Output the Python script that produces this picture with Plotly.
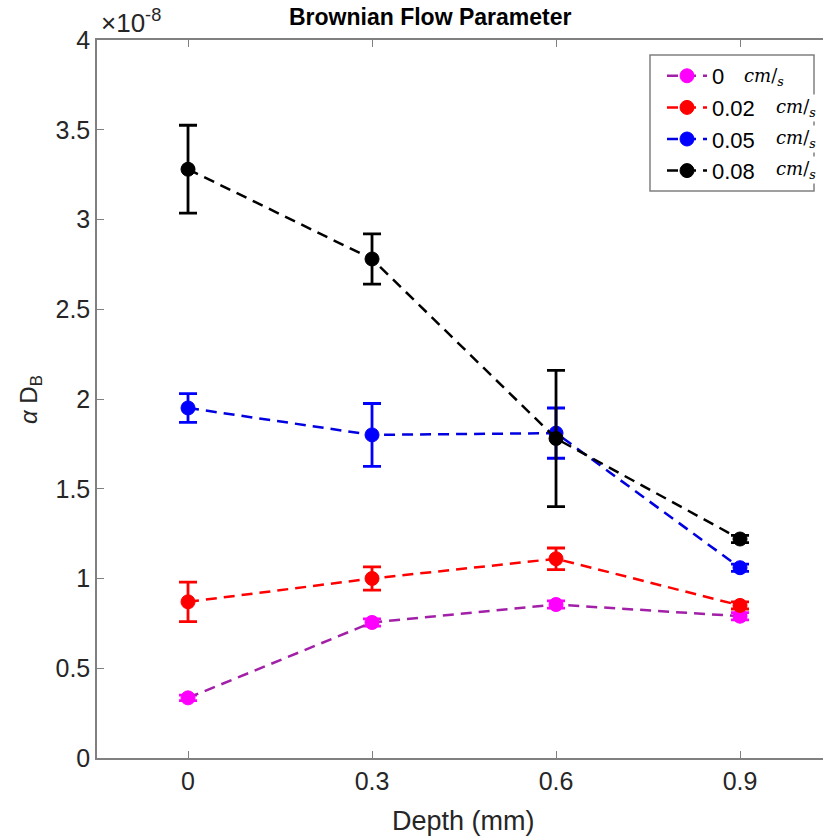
import plotly.graph_objects as go

depth = [0, 0.3, 0.6, 0.9]
series_names = ["0", "0.02", "0.05", "0.08"]
v0 = [0.335, 0.755, 0.855, 0.79]
e0 = [0.015, 0.02, 0.02, 0.02]
v002 = [0.87, 1.00, 1.11, 0.85]
e002 = [0.11, 0.065, 0.06, 0.02]
v005 = [1.95, 1.80, 1.81, 1.06]
e005 = [0.08, 0.175, 0.14, 0.02]
v008 = [3.28, 2.78, 1.78, 1.22]
e008 = [0.245, 0.14, 0.38, 0.02]
y_ticks = [0, 0.5, 1, 1.5, 2, 2.5, 3, 3.5, 4]
y_ticklabels = ["0", "0.5", "1", "1.5", "2", "2.5", "3", "3.5", "4"]
x_ticklabels = ["0", "0.3", "0.6", "0.9"]

line_colors = ["#a21fa8", "#ff0000", "#0000e0", "#000000"]
marker_colors = ["#ff00ff", "#ff0000", "#0000ff", "#000000"]

fig = go.Figure()
for name, v, e, lc, mc in zip(series_names, [v0, v002, v005, v008], [e0, e002, e005, e008],
                              line_colors, marker_colors):
    fig.add_trace(go.Scatter(
        x=depth, y=v, name=name, mode="lines+markers",
        line=dict(color=lc, width=2.5, dash="11px,7px"),
        marker=dict(color=mc, size=14, line=dict(color=mc, width=1)),
        error_y=dict(type="data", array=e, visible=True, color=mc, thickness=2.8, width=9),
    ))

FONT = "Liberation Sans, Arial, Helvetica, sans-serif"
W, H = 823, 839
ml, mr, mt, mb = 97, 0, 40, 81
pw = W - ml - mr
ph = H - mt - mb

def px(x):
    return (x - ml) / pw

def py(y):
    return (H - mb - y) / ph

fig.update_layout(
    width=W, height=H,
    margin=dict(l=ml, r=mr, t=mt, b=mb, pad=0),
    plot_bgcolor="white", paper_bgcolor="white",
    font=dict(family=FONT, size=24, color="#262626"),
    showlegend=True,
    legend=dict(
        x=px(662), y=py(55), xanchor="left", yanchor="top",
        bgcolor="rgba(0,0,0,0)", borderwidth=0,
        font=dict(family=FONT, size=22, color="#000000"),
        tracegroupgap=0, itemwidth=40,
    ),
    xaxis=dict(
        range=[-0.1484, 1.0353], tickvals=depth, ticktext=x_ticklabels,
        ticks="inside", ticklen=7, tickwidth=1, tickcolor="#808080",
        showline=True, linecolor="#808080", linewidth=1.5, mirror="ticks",
        showgrid=False, zeroline=False,
        tickfont=dict(family=FONT, size=25, color="#262626"),
    ),
    yaxis=dict(
        range=[0, 4], tickvals=y_ticks, ticktext=y_ticklabels,
        ticks="inside", ticklen=7, tickwidth=1, tickcolor="#808080",
        showline=True, linecolor="#808080", linewidth=1.5, mirror=False,
        showgrid=False, zeroline=False,
        tickfont=dict(family=FONT, size=25, color="#262626"),
    ),
)

# legend box
fig.add_shape(type="rect", xref="paper", yref="paper",
              x0=px(650), x1=px(814), y0=py(191), y1=py(55),
              line=dict(color="#808080", width=1.5), fillcolor="white", layer="below")

# units in legend
units = [(742, 77), (774, 108), (774, 139), (774, 170)]
for ux, uy in units:
    fig.add_annotation(xref="paper", yref="paper", x=px(ux), y=py(uy),
                       xanchor="left", yanchor="middle", showarrow=False,
                       text="<i>cm</i>/<sub><i>s</i></sub>", bgcolor="white",
                       font=dict(family="DejaVu Serif, Liberation Serif, serif", size=18, color="#000000"))

fig.add_annotation(xref="paper", yref="paper", x=px(430), y=py(17),
                   xanchor="center", yanchor="middle", showarrow=False,
                   text="<b>Brownian Flow Parameter</b>",
                   font=dict(family=FONT, size=23, color="#000000"))
fig.add_annotation(xref="paper", yref="paper", x=px(99), y=py(22),
                   xanchor="left", yanchor="middle", showarrow=False,
                   text="×10<sup>-8</sup>",
                   font=dict(family=FONT, size=26, color="#262626"))
fig.add_annotation(xref="paper", yref="paper", x=px(30), y=py(400),
                   xanchor="center", yanchor="middle", showarrow=False, textangle=-90,
                   text="<i>α</i> D<sub>B</sub>",
                   font=dict(family=FONT, size=24, color="#262626"))
fig.add_annotation(xref="paper", yref="paper", x=px(464), y=py(821),
                   xanchor="center", yanchor="middle", showarrow=False,
                   text="Depth (mm)",
                   font=dict(family=FONT, size=27, color="#262626"))

fig.write_html("out.html")
